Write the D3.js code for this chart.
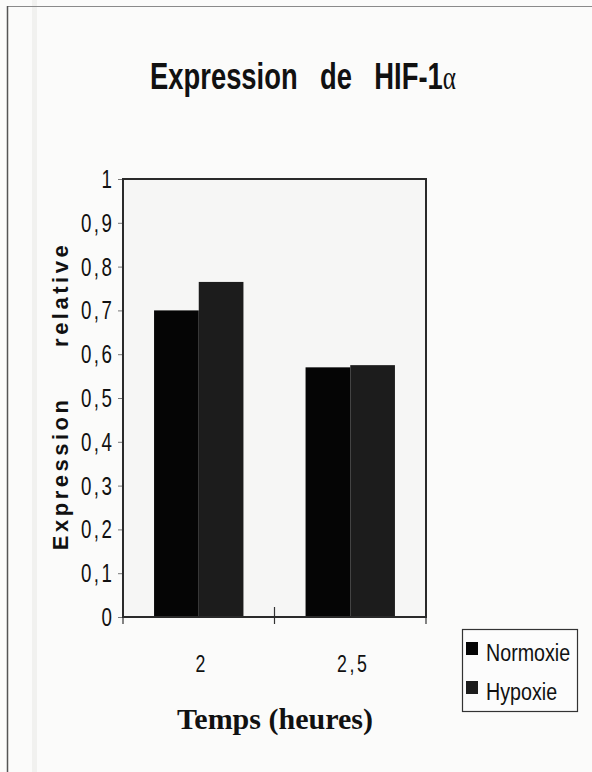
<!DOCTYPE html>
<html>
<head>
<meta charset="utf-8">
<script src="https://cdn.jsdelivr.net/npm/d3@7"></script>
<style>
  html, body { margin: 0; padding: 0; background: #fbfbfa; }
  svg { display: block; }
</style>
</head>
<body>
<svg id="chart" width="592" height="772"></svg>
<script>
// Relative HIF-1α expression at two time points
const categories = ["2", "2,5"];
const seriesNames = ["Normoxie", "Hypoxie"];
const normoxie = [0.70, 0.57];
const hypoxie = [0.765, 0.575];
const yTicks = [0, 0.1, 0.2, 0.3, 0.4, 0.5, 0.6, 0.7, 0.8, 0.9, 1];
const seriesColors = ["#050505", "#1c1c1c"];

const SANS = "Liberation Sans, Arial, sans-serif";
const svg = d3.select("#chart");
const W = 592, H = 772;
const plot = { left: 123, right: 426, top: 179, bottom: 617 };

// condensed text: a horizontally squeezed group around a plain text node
function narrowText(parent, x, y, str, opts) {
  const o = Object.assign({ size: 22, sx: 0.8, anchor: "start", weight: "normal", ls: 0 }, opts);
  const g = parent.append("g").attr("transform", `translate(${x},${y}) scale(${o.sx},1)`);
  const t = g.append("text")
    .attr("font-family", SANS).attr("font-size", o.size).attr("font-weight", o.weight)
    .attr("letter-spacing", o.ls).attr("text-anchor", o.anchor).attr("fill", "#111")
    .text(str);
  return t;
}

// page background and outer frame
svg.append("rect").attr("width", W).attr("height", H).attr("fill", "#fbfbfa");
svg.append("rect").attr("x", 32).attr("y", 0).attr("width", 5).attr("height", H).attr("fill", "#f1f1ef");
svg.append("line").attr("x1", 7).attr("x2", W).attr("y1", 6.5).attr("y2", 6.5)
  .attr("stroke", "#8a8a8a").attr("stroke-width", 1.2);
svg.append("line").attr("x1", 7.5).attr("x2", 7.5).attr("y1", 6).attr("y2", H)
  .attr("stroke", "#555").attr("stroke-width", 1.5);

const x0 = d3.scaleBand().domain(categories).range([plot.left, plot.right]).padding(0);
const groupFrac = 0.59;
const x1 = d3.scaleBand().domain(seriesNames).range([0, x0.bandwidth() * groupFrac]).padding(0);
const groupOffset = x0.bandwidth() * (1 - groupFrac) / 2;
const y = d3.scaleLinear().domain([0, 1]).range([plot.bottom, plot.top]);

// plot area background
svg.append("rect").attr("x", plot.left).attr("y", plot.top)
  .attr("width", plot.right - plot.left).attr("height", plot.bottom - plot.top)
  .attr("fill", "#f6f6f5");

// bars
const rows = categories.map((c, i) => ({ cat: c, values: [normoxie[i], hypoxie[i]] }));
const groups = svg.append("g").selectAll("g").data(rows).join("g")
  .attr("transform", d => `translate(${x0(d.cat) + groupOffset},0)`);
groups.selectAll("rect").data(d => d.values.map((v, j) => ({ v, name: seriesNames[j], j })))
  .join("rect")
  .attr("x", d => x1(d.name))
  .attr("y", d => y(d.v))
  .attr("width", x1.bandwidth())
  .attr("height", d => y(0) - y(d.v))
  .attr("fill", d => seriesColors[d.j]);

// y axis: tick marks from d3, labels drawn condensed
const yAxis = d3.axisLeft(y).tickValues(yTicks).tickSize(5).tickFormat("");
const gy = svg.append("g").attr("transform", `translate(${plot.left},0)`).call(yAxis);
gy.select(".domain").remove();
gy.selectAll(".tick line").attr("stroke", "#777").attr("stroke-width", 1);
const fmtY = d => d === 0 ? "0" : d === 1 ? "1" : d3.format(".1f")(d).replace(".", ",");
yTicks.forEach(d => {
  narrowText(svg, 112 + 2.5, y(d) + 9, fmtY(d), { size: 26, sx: 0.72, anchor: "end", ls: 3.5 });
});

// x axis: tick marks at band edges crossing the baseline
const edges = [plot.left, x0(categories[1]), plot.right];
svg.append("g").selectAll("line").data(edges).join("line")
  .attr("x1", d => d).attr("x2", d => d)
  .attr("y1", (d, i) => i === 1 ? plot.bottom - 10 : plot.bottom)
  .attr("y2", plot.bottom + 7)
  .attr("stroke", "#333").attr("stroke-width", 1.2);
categories.forEach(c => {
  narrowText(svg, x0(c) + x0.bandwidth() / 2 + 3, 672, c,
    { size: 24, sx: 0.74, anchor: "middle", ls: 3.5 });
});

// plot frame
svg.append("path")
  .attr("d", `M${plot.left},${plot.bottom}V${plot.top}H${plot.right}V${plot.bottom}Z`)
  .attr("fill", "none").attr("stroke", "#2a2a2a").attr("stroke-width", 2);

// title
const title = narrowText(svg, 303, 89, "", { size: 37, sx: 0.74, anchor: "middle", weight: "bold" })
  .attr("word-spacing", 20);
title.append("tspan").text("Expression de HIF-1");
title.append("tspan").attr("font-weight", "normal")
  .attr("font-family", "Liberation Serif, serif").attr("font-size", 34).text("α");

// y axis title
svg.append("text")
  .attr("transform", `translate(68,${396}) rotate(-90)`)
  .attr("text-anchor", "middle")
  .attr("font-family", SANS)
  .attr("font-weight", "bold").attr("font-size", 22)
  .attr("letter-spacing", 3.5).attr("word-spacing", 40)
  .attr("fill", "#111")
  .text("Expression relative");

// x axis title
svg.append("text").attr("x", 275).attr("y", 729).attr("text-anchor", "middle")
  .attr("font-family", "Liberation Serif, Times New Roman, serif")
  .attr("font-weight", "bold").attr("font-size", 30).attr("fill", "#111")
  .text("Temps (heures)");

// legend
const lg = svg.append("g");
lg.append("rect").attr("x", 462.5).attr("y", 629.5).attr("width", 115).attr("height", 82)
  .attr("fill", "#fcfcfc").attr("stroke", "#333").attr("stroke-width", 1.2);
seriesNames.forEach((name, i) => {
  const yy = 661 + i * 39;
  lg.append("rect").attr("x", 466).attr("y", yy - 19).attr("width", 12).attr("height", 13)
    .attr("fill", seriesColors[i]);
  narrowText(lg, 486, yy, name, { size: 24, sx: 0.82 });
});
</script>
</body>
</html>
